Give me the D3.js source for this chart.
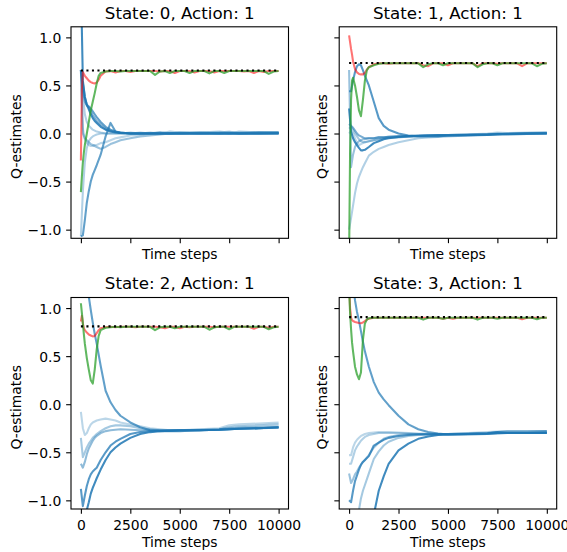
<!DOCTYPE html>
<html><head><meta charset="utf-8">
<script src="https://cdn.jsdelivr.net/npm/d3@7"></script>
<style>body{margin:0;background:#fff} text{font-family:"DejaVu Sans",sans-serif}</style>
</head><body>
<svg id="c" width="567" height="552" xmlns="http://www.w3.org/2000/svg"></svg>
<script>
// ---------- data ----------
const titles = ["State: 0, Action: 1", "State: 1, Action: 1", "State: 2, Action: 1", "State: 3, Action: 1"];
const targets = [0.656, 0.733, 0.81, 0.906];
const xTicks = [0, 2500, 5000, 7500, 10000];
const yTicks = [-1.0, -0.5, 0.0, 0.5, 1.0];
const targetSpan = [0, 10000];

const blueTime = [0, 100, 200, 300, 400, 500, 600, 700, 800, 1000, 1250, 1500, 1750, 2000, 2500, 3000, 3500, 4000, 4500, 5000, 6000, 7000, 7500, 8000, 9000, 10000];
const rgTime = [0, 50, 100, 150, 200, 300, 400, 500, 600, 700, 800, 900, 1000, 1250, 1500, 1750, 2000, 2250, 2500, 2750, 3000, 3250, 3500, 3750, 4000, 4250, 4500, 4750, 5000, 5250, 5500, 5750, 6000, 6250, 6500, 6750, 7000, 7250, 7500, 7750, 8000, 8250, 8500, 8750, 9000, 9250, 9500, 9750, 10000];

// state 0
const red0 = [-0.28, 0.45, 0.64, 0.62, 0.6, 0.575, 0.55, 0.535, 0.525, 0.52, 0.53, 0.56, 0.6, 0.645, 0.65, 0.635, 0.65, 0.65, 0.64, 0.65, 0.65, 0.65, 0.65, 0.65, 0.645, 0.65, 0.65, 0.63, 0.65, 0.65, 0.65, 0.635, 0.65, 0.65, 0.65, 0.635, 0.65, 0.65, 0.65, 0.65, 0.65, 0.645, 0.65, 0.63, 0.65, 0.64, 0.65, 0.65, 0.65];
const green0 = [-0.61, -0.45, -0.3, -0.2, -0.12, 0.0, 0.12, 0.24, 0.33, 0.42, 0.52, 0.6, 0.63, 0.645, 0.65, 0.65, 0.645, 0.65, 0.65, 0.65, 0.65, 0.65, 0.65, 0.61, 0.645, 0.65, 0.63, 0.65, 0.65, 0.65, 0.63, 0.65, 0.65, 0.65, 0.625, 0.65, 0.65, 0.63, 0.65, 0.65, 0.65, 0.65, 0.65, 0.65, 0.65, 0.65, 0.62, 0.645, 0.65];
const blue0 = [
  [1.6, 0.55, 0.38, 0.3, 0.25, 0.2, 0.16, 0.13, 0.11, 0.07, 0.04, 0.02, 0.01, 0.005, 0, 0, 0, 0, 0, 0, 0, 0, 0, 0, 0, 0.005],
  [0.66, 0.45, 0.33, 0.29, 0.27, 0.23, 0.19, 0.16, 0.13, 0.09, 0.05, 0.03, 0.015, 0.01, 0, 0, 0, 0, 0, 0, 0, 0, 0, 0, 0, 0],
  [0.66, 0.52, 0.38, 0.3, 0.28, 0.26, 0.23, 0.2, 0.17, 0.12, 0.07, 0.04, 0.02, 0.01, 0, 0, 0, 0, 0, 0, 0, 0, 0, 0, 0, 0],
  [0.66, 0.4, 0.2, 0.12, 0.08, 0.06, 0.04, 0.03, 0.02, 0.01, 0, 0, 0, 0, 0, 0.01, 0, 0.015, 0, 0.01, 0.01, 0.02, 0.01, 0.01, 0.015, 0.01],
  [0.66, 0.05, -0.06, -0.1, -0.12, -0.13, -0.13, -0.12, -0.12, -0.1, -0.09, -0.07, -0.05, -0.04, -0.02, -0.01, 0, 0.01, 0, 0.01, 0, 0.01, 0.02, 0, 0.01, 0.015],
  [0.66, 0.0, -0.05, -0.07, -0.09, -0.11, -0.12, -0.13, -0.14, -0.16, -0.14, -0.11, -0.09, -0.07, -0.05, -0.03, -0.02, -0.01, 0, 0, 0.01, 0, 0.01, 0, 0.01, 0.01],
  [-1.07, -1.06, -0.9, -0.72, -0.6, -0.5, -0.43, -0.38, -0.33, -0.22, -0.03, 0.11, 0.02, 0.005, 0, 0, 0, 0, 0, 0, 0, 0, 0, 0, 0, 0],
  [-1.07, -0.6, -0.3, -0.15, -0.08, -0.05, -0.03, -0.02, -0.01, 0, 0, 0, 0, 0, 0.01, 0, 0.01, 0, 0.02, 0.01, 0.01, 0.01, 0, 0.02, 0.01, 0.01]
];

// state 1
const red1 = [1.02, 0.95, 0.88, 0.82, 0.75, 0.67, 0.635, 0.62, 0.615, 0.615, 0.63, 0.665, 0.69, 0.72, 0.73, 0.73, 0.725, 0.73, 0.73, 0.73, 0.73, 0.73, 0.73, 0.71, 0.7, 0.73, 0.73, 0.73, 0.71, 0.73, 0.73, 0.73, 0.73, 0.73, 0.7, 0.73, 0.73, 0.73, 0.725, 0.73, 0.73, 0.73, 0.73, 0.7, 0.73, 0.73, 0.73, 0.73, 0.73];
const green1 = [-1.3, -0.2, 0.35, 0.55, 0.58, 0.5, 0.38, 0.24, 0.18, 0.35, 0.55, 0.66, 0.69, 0.71, 0.725, 0.73, 0.73, 0.73, 0.73, 0.73, 0.73, 0.73, 0.73, 0.69, 0.72, 0.73, 0.73, 0.71, 0.73, 0.73, 0.73, 0.73, 0.73, 0.73, 0.69, 0.72, 0.73, 0.73, 0.71, 0.73, 0.73, 0.73, 0.73, 0.73, 0.73, 0.73, 0.7, 0.725, 0.73];
const blue1 = [
  [0.44, 0.44, 0.55, 0.64, 0.7, 0.72, 0.71, 0.66, 0.6, 0.5, 0.33, 0.16, 0.08, 0.04, 0.0, -0.02, -0.03, -0.03, -0.03, -0.02, -0.02, -0.015, -0.01, -0.01, -0.005, 0.0],
  [0.66, -0.35, -0.22, -0.14, -0.1, -0.08, -0.07, -0.06, -0.06, -0.05, -0.05, -0.04, -0.04, -0.035, -0.03, -0.03, -0.025, -0.02, -0.02, -0.02, -0.015, -0.01, 0, 0, 0.005, 0.01],
  [0.26, 0.02, -0.05, -0.09, -0.12, -0.15, -0.175, -0.175, -0.17, -0.14, -0.1, -0.08, -0.06, -0.05, -0.035, -0.025, -0.02, -0.02, -0.015, -0.015, -0.01, -0.01, -0.005, -0.005, 0, 0],
  [0.1, 0.08, 0.06, 0.03, 0.0, -0.02, -0.03, -0.04, -0.05, -0.05, -0.05, -0.04, -0.04, -0.035, -0.03, -0.03, -0.025, -0.02, -0.02, -0.02, -0.015, -0.01, -0.005, -0.005, 0, 0],
  [0.05, 0.07, 0.04, 0.0, -0.03, -0.06, -0.08, -0.09, -0.09, -0.08, -0.07, -0.06, -0.05, -0.045, -0.04, -0.03, -0.025, -0.02, -0.02, -0.02, -0.015, -0.01, -0.01, 0, 0, 0.005],
  [0.0, 0.03, 0.0, -0.05, -0.1, -0.12, -0.11, -0.1, -0.09, -0.08, -0.07, -0.06, -0.05, -0.04, -0.035, -0.03, -0.025, -0.02, -0.02, -0.015, -0.01, 0.0, 0.01, 0.005, 0.01, 0.01],
  [-1.0, -0.88, -0.75, -0.62, -0.52, -0.45, -0.4, -0.35, -0.31, -0.23, -0.19, -0.16, -0.14, -0.12, -0.09, -0.07, -0.05, -0.04, -0.035, -0.03, -0.02, -0.01, -0.01, -0.005, 0, 0.005]
];

// state 2
const red2 = [0.86, 0.92, 0.84, 0.79, 0.77, 0.745, 0.725, 0.715, 0.705, 0.71, 0.74, 0.77, 0.79, 0.8, 0.805, 0.8, 0.805, 0.805, 0.805, 0.8, 0.805, 0.805, 0.805, 0.805, 0.8, 0.79, 0.805, 0.805, 0.79, 0.805, 0.8, 0.805, 0.805, 0.805, 0.805, 0.8, 0.805, 0.805, 0.805, 0.805, 0.805, 0.805, 0.805, 0.785, 0.805, 0.805, 0.795, 0.805, 0.805];
const green2 = [1.05, 0.95, 0.84, 0.73, 0.63, 0.48, 0.36, 0.25, 0.215, 0.36, 0.57, 0.71, 0.77, 0.795, 0.8, 0.805, 0.8, 0.805, 0.805, 0.805, 0.805, 0.805, 0.805, 0.77, 0.8, 0.805, 0.805, 0.79, 0.805, 0.805, 0.805, 0.805, 0.805, 0.805, 0.775, 0.8, 0.805, 0.805, 0.78, 0.805, 0.805, 0.805, 0.805, 0.805, 0.805, 0.805, 0.78, 0.8, 0.805];
const blue2 = [
  [1.8, 1.6, 1.4, 1.25, 1.12, 0.98, 0.85, 0.73, 0.63, 0.4, 0.14, 0.02, -0.06, -0.12, -0.19, -0.24, -0.27, -0.28, -0.28, -0.28, -0.27, -0.265, -0.26, -0.255, -0.25, -0.245],
  [-0.08, -0.25, -0.32, -0.3, -0.25, -0.21, -0.19, -0.18, -0.17, -0.16, -0.15, -0.16, -0.17, -0.19, -0.21, -0.23, -0.25, -0.26, -0.27, -0.27, -0.26, -0.25, -0.22, -0.21, -0.2, -0.19],
  [-0.35, -0.55, -0.5, -0.45, -0.41, -0.38, -0.35, -0.33, -0.31, -0.28, -0.25, -0.23, -0.22, -0.22, -0.23, -0.25, -0.26, -0.27, -0.27, -0.27, -0.265, -0.26, -0.24, -0.23, -0.22, -0.21],
  [-0.62, -0.66, -0.6, -0.52, -0.46, -0.42, -0.38, -0.35, -0.33, -0.3, -0.28, -0.27, -0.265, -0.26, -0.265, -0.27, -0.27, -0.275, -0.275, -0.27, -0.27, -0.26, -0.25, -0.245, -0.24, -0.235],
  [-0.88, -1.06, -0.95, -0.85, -0.78, -0.73, -0.7, -0.68, -0.66, -0.58, -0.5, -0.43, -0.39, -0.36, -0.31, -0.29, -0.28, -0.275, -0.275, -0.27, -0.27, -0.265, -0.26, -0.255, -0.25, -0.24],
  [-1.6, -1.4, -1.25, -1.1, -1.02, -0.93, -0.87, -0.82, -0.77, -0.68, -0.58, -0.5, -0.45, -0.41, -0.35, -0.31, -0.29, -0.28, -0.275, -0.27, -0.27, -0.265, -0.26, -0.255, -0.25, -0.24]
];

// state 3
const red3 = [1.3, 1.0, 0.9, 0.875, 0.865, 0.855, 0.85, 0.845, 0.843, 0.85, 0.865, 0.88, 0.89, 0.9, 0.9, 0.9, 0.9, 0.9, 0.9, 0.9, 0.9, 0.9, 0.9, 0.9, 0.9, 0.9, 0.9, 0.89, 0.9, 0.89, 0.9, 0.9, 0.9, 0.9, 0.9, 0.9, 0.9, 0.9, 0.9, 0.9, 0.9, 0.9, 0.9, 0.885, 0.9, 0.9, 0.9, 0.9, 0.9];
const green3 = [1.2, 0.95, 0.78, 0.64, 0.55, 0.39, 0.31, 0.26, 0.33, 0.67, 0.84, 0.88, 0.895, 0.9, 0.9, 0.9, 0.9, 0.9, 0.9, 0.9, 0.9, 0.9, 0.9, 0.88, 0.9, 0.9, 0.9, 0.89, 0.9, 0.9, 0.9, 0.9, 0.9, 0.9, 0.88, 0.9, 0.9, 0.9, 0.89, 0.9, 0.9, 0.9, 0.9, 0.9, 0.9, 0.9, 0.885, 0.9, 0.9];
const blue3 = [
  [2.2, 1.55, 1.25, 1.08, 0.96, 0.87, 0.76, 0.65, 0.55, 0.39, 0.23, 0.12, 0.05, -0.01, -0.12, -0.21, -0.26, -0.29, -0.305, -0.315, -0.315, -0.31, -0.305, -0.3, -0.3, -0.295],
  [-0.53, -0.53, -0.45, -0.4, -0.37, -0.35, -0.33, -0.32, -0.31, -0.3, -0.295, -0.29, -0.29, -0.29, -0.295, -0.3, -0.305, -0.305, -0.31, -0.31, -0.3, -0.29, -0.285, -0.28, -0.28, -0.28],
  [-0.62, -0.62, -0.55, -0.48, -0.44, -0.41, -0.38, -0.36, -0.34, -0.32, -0.31, -0.3, -0.3, -0.3, -0.3, -0.305, -0.31, -0.31, -0.31, -0.31, -0.305, -0.3, -0.29, -0.285, -0.285, -0.28],
  [-0.72, -0.82, -0.78, -0.73, -0.7, -0.66, -0.63, -0.6, -0.58, -0.53, -0.45, -0.4, -0.36, -0.34, -0.32, -0.31, -0.31, -0.31, -0.31, -0.31, -0.31, -0.305, -0.3, -0.3, -0.3, -0.295],
  [-1.0, -1.02, -0.9, -0.8, -0.74, -0.68, -0.63, -0.6, -0.58, -0.54, -0.43, -0.4, -0.37, -0.35, -0.33, -0.32, -0.315, -0.315, -0.315, -0.315, -0.31, -0.305, -0.29, -0.3, -0.3, -0.3],
  [-2.5, -2.0, -1.7, -1.45, -1.25, -1.1, -0.98, -0.9, -0.84, -0.72, -0.57, -0.49, -0.43, -0.39, -0.35, -0.33, -0.32, -0.315, -0.31, -0.31, -0.305, -0.3, -0.29, -0.285, -0.285, -0.28],
  [-4, -3.5, -3, -2.7, -2.4, -2.2, -2.0, -1.8, -1.65, -1.4, -1.15, -0.9, -0.75, -0.62, -0.48, -0.41, -0.36, -0.335, -0.32, -0.315, -0.31, -0.305, -0.3, -0.3, -0.3, -0.3]
];

// ---------- styles ----------
const blueAlpha = [
  [0.85, 0.6, 0.7, 0.35, 0.3, 0.45, 0.7, 0.35],
  [0.75, 0.45, 0.85, 0.6, 0.4, 0.3, 0.35],
  [0.7, 0.3, 0.4, 0.5, 0.75, 0.85],
  [0.7, 0.3, 0.35, 0.45, 0.75, 0.4, 0.85]
];
const panels = [
  {title: titles[0], target: targets[0], red: red0, green: green0, blues: blue0},
  {title: titles[1], target: targets[1], red: red1, green: green1, blues: blue1},
  {title: titles[2], target: targets[2], red: red2, green: green2, blues: blue2},
  {title: titles[3], target: targets[3], red: red3, green: green3, blues: blue3}
];

// ---------- layout ----------
const svg = d3.select('#c');
const colX = [71, 339.2], W = 217.5;
const rowY = [26.8, 297.5], H = 211.5;
const X_DOMAIN = [-500, 10500], Y_DOMAIN = [-1.09, 1.11];
const LW = 2.08, TICK = 4.86, FS = 13.9;
const fmtY = d => (d < 0 ? '\u2212' : '') + Math.abs(d).toFixed(1);

panels.forEach((p, i) => {
  const r = Math.floor(i / 2), c = i % 2;
  const x0 = colX[c], y0 = rowY[r];
  const x = d3.scaleLinear().domain(X_DOMAIN).range([x0, x0 + W]);
  const y = d3.scaleLinear().domain(Y_DOMAIN).range([y0 + H, y0]);
  const g = svg.append('g');

  g.append('clipPath').attr('id', 'clip' + i)
    .append('rect').attr('x', x0).attr('y', y0).attr('width', W).attr('height', H);
  const plot = g.append('g').attr('clip-path', `url(#clip${i})`);

  const mk = times => d3.line().x((d, k) => x(times[k])).y(d => y(d));
  const blueLine = mk(blueTime), rgLine = mk(rgTime);

  p.blues.forEach((vals, k) => {
    plot.append('path').attr('d', blueLine(vals))
      .attr('fill', 'none').attr('stroke', '#1f77b4')
      .attr('stroke-opacity', blueAlpha[i][k]).attr('stroke-width', LW)
      .attr('stroke-linejoin', 'round');
  });
  plot.append('path').attr('d', rgLine(p.red))
    .attr('fill', 'none').attr('stroke', '#ff0000').attr('stroke-opacity', 0.55)
    .attr('stroke-width', LW).attr('stroke-linejoin', 'round');
  plot.append('path').attr('d', rgLine(p.green))
    .attr('fill', 'none').attr('stroke', '#2ca02c').attr('stroke-opacity', 0.75)
    .attr('stroke-width', LW).attr('stroke-linejoin', 'round');
  plot.append('path')
    .attr('d', d3.line().x(d => x(d)).y(() => y(p.target))(targetSpan))
    .attr('fill', 'none').attr('stroke', '#000')
    .attr('stroke-width', LW).attr('stroke-dasharray', '2.08,3.44');

  // axes
  const xa = g.append('g').attr('transform', `translate(0,${y0 + H})`)
    .call(d3.axisBottom(x).tickValues(xTicks).tickSize(TICK).tickPadding(TICK)
      .tickFormat(r === 1 ? d => String(d) : () => ''));
  const ya = g.append('g').attr('transform', `translate(${x0},0)`)
    .call(d3.axisLeft(y).tickValues(yTicks).tickSize(TICK).tickPadding(TICK)
      .tickFormat(c === 0 ? fmtY : () => ''));
  [xa, ya].forEach(a => {
    a.select('.domain').remove();
    a.attr('font-family', 'DejaVu Sans').attr('font-size', FS);
    a.selectAll('line').attr('stroke', '#000').attr('stroke-width', 1.1);
    a.selectAll('text').attr('fill', '#000');
  });
  xa.selectAll('text').attr('y', 21).attr('dy', null);
  ya.selectAll('text').attr('dy', '0.36em');

  // frame
  g.append('rect').attr('x', x0).attr('y', y0).attr('width', W).attr('height', H)
    .attr('fill', 'none').attr('stroke', '#000').attr('stroke-width', 1.1);

  // labels
  g.append('text').attr('x', x0 + W / 2).attr('y', y0 - 8.3)
    .attr('text-anchor', 'middle').attr('font-size', 16.67).text(p.title);
  g.append('text').attr('x', x0 + W / 2).attr('y', r === 0 ? 258.5 : 547)
    .attr('text-anchor', 'middle').attr('font-size', FS).text('Time steps');
  const lx = c === 0 ? 21 : 326.5;
  g.append('text').attr('transform', `translate(${lx},${y0 + H / 2 + 4}) rotate(-90)`)
    .attr('text-anchor', 'middle').attr('font-size', FS).text('Q-estimates');
});
</script>
</body></html>
